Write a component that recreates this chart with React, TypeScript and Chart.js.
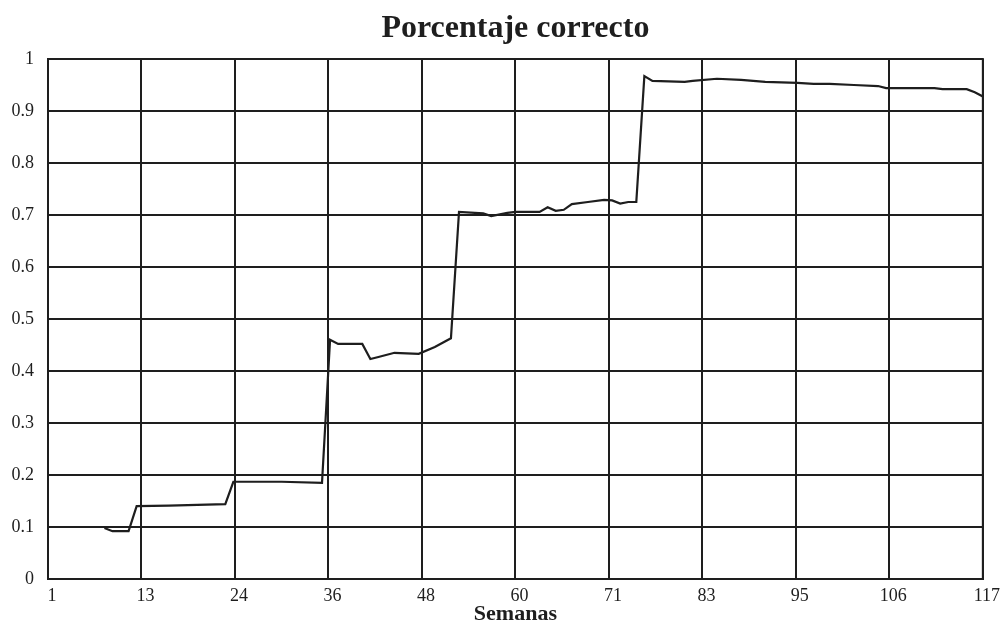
import React, { useEffect, useRef } from "react";
import { Chart, registerables } from "chart.js";

Chart.register(...registerables);

const chartTitle = "Porcentaje correcto";
const xAxisTitle = "Semanas";
const xTickLabels = ["1", "13", "24", "36", "48", "60", "71", "83", "95", "106", "117"];
const weeks = [
  8, 9, 11, 12, 16, 23, 24, 30, 35, 36, 37, 40, 41, 42, 44, 47, 49, 51, 52, 55, 56, 58, 59, 62, 63, 64,
  65, 66, 68, 70, 71, 72, 73, 74, 75, 76, 80, 81, 84, 87, 90, 94, 96, 98, 101, 104, 105, 111, 112, 115,
  116, 117,
];
const correct = [
  0.098, 0.092, 0.092, 0.14, 0.141, 0.144, 0.187, 0.187, 0.185, 0.46, 0.452, 0.452, 0.423, 0.427, 0.435,
  0.433, 0.446, 0.463, 0.706, 0.703, 0.698, 0.704, 0.706, 0.706, 0.715, 0.708, 0.71, 0.721, 0.725, 0.729,
  0.728, 0.722, 0.725, 0.725, 0.967, 0.958, 0.956, 0.958, 0.962, 0.96, 0.956, 0.954, 0.952, 0.952, 0.95,
  0.948, 0.944, 0.944, 0.942, 0.942, 0.936, 0.928,
];

const X_MIN = 1;
const X_MAX = 117;

export default function App() {
  const ref = useRef<HTMLCanvasElement | null>(null);

  useEffect(() => {
    document.body.style.margin = "0";
    document.body.style.background = "#ffffff";
    const canvas = ref.current;
    if (!canvas) return;
    const ink = "#1e1e1e";
    const points = weeks.map((w, i) => ({ x: w, y: correct[i] }));
    const chart = new Chart(canvas, {
      type: "line",
      data: {
        datasets: [
          {
            data: points,
            borderColor: ink,
            borderWidth: 2.2,
            pointRadius: 0,
            tension: 0,
            fill: false,
          },
        ],
      },
      options: {
        animation: false,
        responsive: false,
        layout: { padding: { left: 0, right: 15, top: 0, bottom: 0 } },
        plugins: {
          legend: { display: false },
          tooltip: { enabled: false },
          title: {
            display: true,
            text: chartTitle,
            fullSize: false,
            color: ink,
            font: { family: "'Liberation Serif', serif", size: 32, weight: "bold" },
            padding: { top: 10, bottom: 10.6 },
          },
        },
        scales: {
          x: {
            type: "linear",
            min: X_MIN,
            max: X_MAX,
            afterFit: (s: any) => {
              s.height = 49;
            },
            afterBuildTicks: (s: any) => {
              const n = xTickLabels.length - 1;
              s.ticks = xTickLabels.map((_, i) => ({ value: X_MIN + ((X_MAX - X_MIN) * i) / n }));
            },
            ticks: {
              color: ink,
              padding: 6,
              labelOffset: 4,
              maxRotation: 0,
              autoSkip: false,
              font: { family: "'Liberation Serif', serif", size: 18 },
              callback: (_v: any, i: number) => xTickLabels[i],
            },
            grid: { color: ink, lineWidth: 2, drawTicks: false },
            border: { color: ink, width: 2 },
            title: {
              display: true,
              text: xAxisTitle,
              color: ink,
              font: { family: "'Liberation Serif', serif", size: 22, weight: "bold" },
              padding: { top: 0, bottom: 0 },
            },
          },
          y: {
            min: 0,
            max: 1,
            afterFit: (s: any) => {
              s.width = 48;
            },
            ticks: {
              stepSize: 0.1,
              color: ink,
              padding: 14,
              font: { family: "'Liberation Serif', serif", size: 18 },
              callback: (v: any) => String(Number(Number(v).toFixed(1))),
            },
            grid: { color: ink, lineWidth: 2, drawTicks: false },
            border: { color: ink, width: 2 },
          },
        },
      },
      plugins: [
        {
          id: "frame",
          afterDraw: (c: any) => {
            const { ctx, chartArea: a } = c;
            ctx.save();
            ctx.strokeStyle = ink;
            ctx.lineWidth = 2;
            ctx.strokeRect(a.left, a.top, a.right - a.left, a.bottom - a.top);
            ctx.restore();
          },
        },
      ],
    });
    return () => chart.destroy();
  }, []);

  return <canvas ref={ref} width={1002} height={628} style={{ display: "block" }} />;
}
